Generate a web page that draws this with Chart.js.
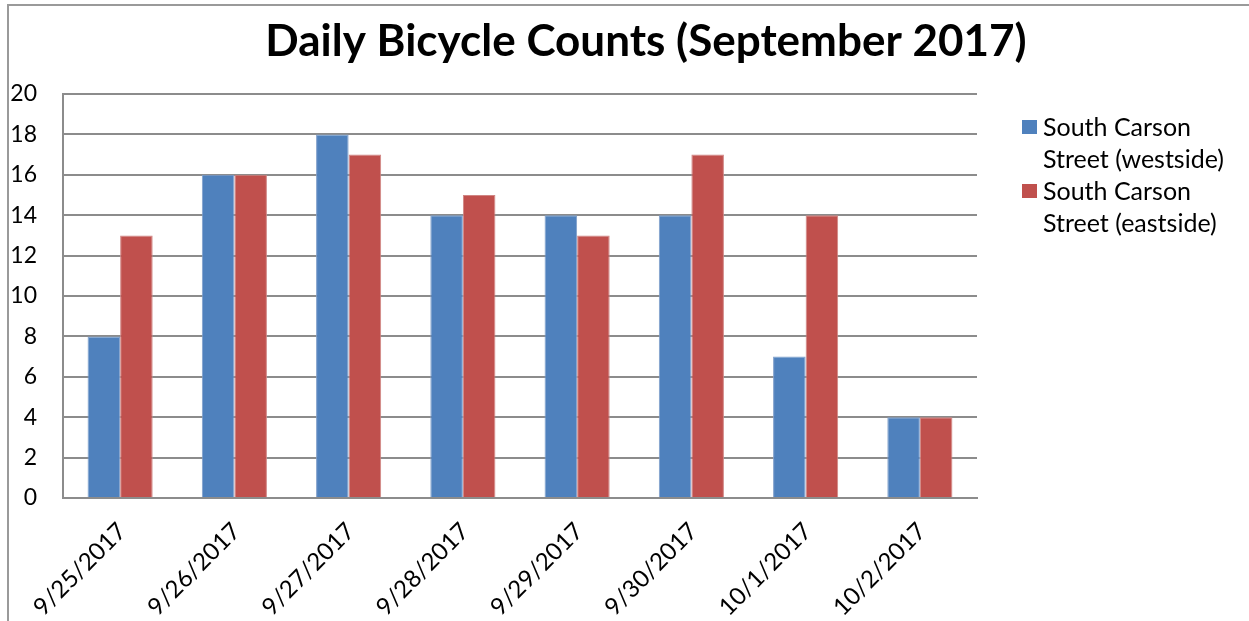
<!DOCTYPE html>
<html>
<head>
<meta charset="utf-8">
<script src="https://cdn.jsdelivr.net/npm/chart.js@4.4.0/dist/chart.umd.min.js"></script>
<style>
  html, body { margin: 0; padding: 0; background: #ffffff; }
  #wrap { position: relative; width: 1249px; height: 621px; overflow: hidden; }
  #frame { position: absolute; left: 7px; top: 4px; right: -10px; bottom: -10px;
           border-top: 2px solid #9a9a9a; border-left: 2px solid #9a9a9a; }
  canvas { position: absolute; left: 0; top: 0; }
</style>
</head>
<body>
<div id="wrap">
  <div id="frame"></div>
  <canvas id="c" width="1249" height="621"></canvas>
</div>
<script>
const chartTitle = 'Daily Bicycle Counts (September 2017)';
const categories = ['9/25/2017', '9/26/2017', '9/27/2017', '9/28/2017', '9/29/2017', '9/30/2017', '10/1/2017', '10/2/2017'];
const westsideLabel = 'South Carson Street (westside)';
const eastsideLabel = 'South Carson Street (eastside)';
const westside = [8, 16, 18, 14, 14, 14, 7, 4];
const eastside = [13, 16, 17, 15, 13, 17, 14, 4];
const legendLines = [['South Carson', 'Street (westside)'], ['South Carson', 'Street (eastside)']];
const yMin = 0, yMax = 20, yStep = 2;

const FONT = 'Lato, "Open Sans", sans-serif';

const titlePlugin = {
  id: 'customTitle',
  afterDraw(chart) {
    const ctx = chart.ctx;
    ctx.save();
    ctx.font = 'bold 44px ' + FONT;
    ctx.fillStyle = '#000';
    ctx.textAlign = 'center';
    ctx.textBaseline = 'alphabetic';
    ctx.fillText(chartTitle, 646, 56);
    ctx.restore();
  }
};

const legendPlugin = {
  id: 'customLegend',
  afterDraw(chart) {
    const ctx = chart.ctx;
    ctx.save();
    ctx.font = '25px ' + FONT;
    ctx.textBaseline = 'middle';
    ctx.textAlign = 'left';
    chart.data.datasets.forEach((ds, i) => {
      const y0 = 127 + i * 64;
      ctx.fillStyle = ds.backgroundColor;
      ctx.fillRect(1022, y0 - 7, 15, 14);
      ctx.fillStyle = '#000';
      legendLines[i].forEach((line, j) => {
        ctx.fillText(line, 1043, y0 + 1 + j * 32);
      });
    });
    ctx.restore();
  }
};

new Chart(document.getElementById('c'), {
  type: 'bar',
  data: {
    labels: categories,
    datasets: [
      { label: westsideLabel, data: westside, backgroundColor: '#4F81BD', borderColor: '#7f9fcb', borderWidth: 1,
        categoryPercentage: 0.57, barPercentage: 1.0 },
      { label: eastsideLabel, data: eastside, backgroundColor: '#C0504D', borderColor: '#d08583', borderWidth: 1,
        categoryPercentage: 0.57, barPercentage: 1.0 }
    ]
  },
  options: {
    responsive: false,
    animation: false,
    layout: { padding: { top: 94, right: 272, left: 0, bottom: 0 } },
    plugins: {
      legend: { display: false },
      title: { display: false },
      tooltip: { enabled: false }
    },
    scales: {
      x: {
        grid: { display: false, drawTicks: false },
        border: { display: true, color: '#8c8c8c', width: 2 },
        ticks: {
          color: '#000', font: { family: FONT, size: 24 },
          minRotation: 45, maxRotation: 45, padding: 19, labelOffset: 2, autoSkip: false
        },
        afterFit(scale) { scale.height = 123; }
      },
      y: {
        min: yMin, max: yMax,
        grid: { color: '#8c8c8c', lineWidth: 2, drawTicks: false },
        border: { display: true, color: '#8c8c8c', width: 2 },
        ticks: { stepSize: yStep, color: '#000', font: { family: FONT, size: 23 }, padding: 26 },
        afterFit(scale) { scale.width = 63; }
      }
    }
  },
  plugins: [titlePlugin, legendPlugin]
});
</script>
</body>
</html>
